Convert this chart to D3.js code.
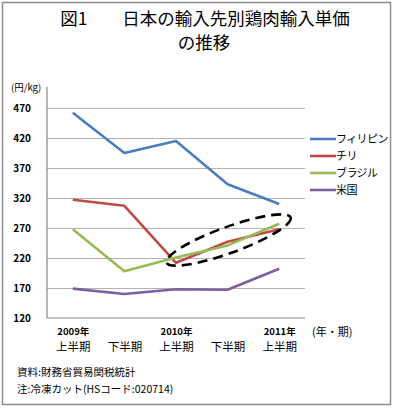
<!DOCTYPE html>
<html>
<head>
<meta charset="utf-8">
<script src="https://cdn.jsdelivr.net/npm/d3@7"></script>
<style>
  body { margin: 0; background: #fff; }
  text { font-family: "Noto Sans CJK JP", "Noto Sans", sans-serif; }
</style>
</head>
<body>
<script>
// データ
var categories = ["2009年上半期", "2009年下半期", "2010年上半期", "2010年下半期", "2011年上半期"];
var yearLabels = ["2009年", "", "2010年", "", "2011年"];
var halfLabels = ["上半期", "下半期", "上半期", "下半期", "上半期"];
var seriesNames = ["フィリピン", "チリ", "ブラジル", "米国"];
var philippines = [462, 395, 415, 343, 310];
var chile = [317, 307, 212, 247, 268];
var brazil = [268, 198, 221, 241, 277];
var usa = [169, 160, 168, 167, 202];
var yTicks = [120, 170, 220, 270, 320, 370, 420, 470];

var colors = ["#4A7EBB", "#BE4B48", "#98B954", "#7D60A0"];
var series = [philippines, chile, brazil, usa];

var width = 394, height = 408;
var plot = { left: 47, right: 305, top: 93, bottom: 318 };

var svg = d3.select("body").append("svg")
  .attr("width", width)
  .attr("height", height);

// 外枠
svg.append("rect")
  .attr("x", 2.5).attr("y", 2.5)
  .attr("width", 388).attr("height", 402)
  .attr("fill", "#fff")
  .attr("stroke", "#8c8c8c")
  .attr("stroke-width", 1.5);

// タイトル
svg.append("text")
  .attr("x", 205).attr("y", 25)
  .attr("text-anchor", "middle")
  .attr("font-size", 17.5)
  .text("図1　　日本の輸入先別鶏肉輸入単価");
svg.append("text")
  .attr("x", 204).attr("y", 49)
  .attr("text-anchor", "middle")
  .attr("font-size", 17.5)
  .text("の推移");

// 比例尺
var x = d3.scalePoint()
  .domain(categories)
  .range([plot.left, plot.right])
  .padding(0.5);

var y = d3.scaleLinear()
  .domain([120, 470])
  .range([plot.bottom, 108]);

// グリッド線
svg.append("g")
  .attr("transform", "translate(" + plot.left + ",0)")
  .call(d3.axisLeft(y).tickValues(yTicks.slice(1)).tickSize(-(plot.right - plot.left)).tickFormat(""))
  .call(function (g) { g.select(".domain").remove(); })
  .selectAll("line")
  .attr("stroke", "#b3b3b3")
  .attr("stroke-width", 1.2);

// y軸
var yAxis = svg.append("g")
  .attr("transform", "translate(" + plot.left + ",0)")
  .call(d3.axisLeft(y).tickValues(yTicks).tickSize(0).tickPadding(16));
yAxis.select(".domain").remove();
yAxis.selectAll("text")
  .attr("font-size", 10)
  .attr("font-weight", "bold")
  .attr("fill", "#000");
svg.append("line")
  .attr("x1", plot.left).attr("x2", plot.left)
  .attr("y1", plot.top - 6).attr("y2", plot.bottom)
  .attr("stroke", "#868686").attr("stroke-width", 1.2);

// x軸
var xAxis = svg.append("g")
  .attr("transform", "translate(0," + plot.bottom + ")")
  .call(d3.axisBottom(x).tickSize(0).tickFormat(""));
xAxis.select(".domain").remove();
svg.append("line")
  .attr("x1", plot.left).attr("x2", plot.right)
  .attr("y1", plot.bottom).attr("y2", plot.bottom)
  .attr("stroke", "#868686").attr("stroke-width", 1.2);
xAxis.selectAll(".tick").each(function (d, i) {
  var t = d3.select(this);
  t.append("text")
    .attr("y", 17)
    .attr("text-anchor", "middle")
    .attr("fill", "#000")
    .attr("font-size", 9.5)
    .attr("font-weight", "bold")
    .text(yearLabels[i]);
  t.append("text")
    .attr("y", 33)
    .attr("text-anchor", "middle")
    .attr("fill", "#000")
    .attr("font-size", 11.5)
    .text(halfLabels[i]);
});

// 単位
svg.append("text")
  .attr("x", 11).attr("y", 91)
  .attr("font-size", 9.5)
  .text("(円/kg)");
svg.append("text")
  .attr("x", 312).attr("y", 336)
  .attr("font-size", 11)
  .text("(年・期)");

// 折れ線
var line = d3.line()
  .x(function (d, i) { return x(categories[i]); })
  .y(function (d) { return y(d); });

svg.selectAll(".series")
  .data(series)
  .enter()
  .append("path")
  .attr("class", "series")
  .attr("d", line)
  .attr("fill", "none")
  .attr("stroke", function (d, i) { return colors[i]; })
  .attr("stroke-width", 2.6)
  .attr("stroke-linejoin", "round");

// 点線の楕円
var ex = x(categories[3]) + 1, ey = y(250);
svg.append("ellipse")
  .attr("cx", 0).attr("cy", 0)
  .attr("rx", 66).attr("ry", 13)
  .attr("transform", "translate(" + ex + "," + ey + ") rotate(-20)")
  .attr("fill", "none")
  .attr("stroke", "#000")
  .attr("stroke-width", 2.6)
  .attr("stroke-dasharray", "10,6");

// 凡例
var legend = svg.selectAll(".legend")
  .data(seriesNames)
  .enter()
  .append("g")
  .attr("class", "legend")
  .attr("transform", function (d, i) { return "translate(310," + (139 + i * 17) + ")"; });
legend.append("line")
  .attr("x1", 0).attr("x2", 26)
  .attr("stroke", function (d, i) { return colors[i]; })
  .attr("stroke-width", 2.6);
legend.append("text")
  .attr("x", 26).attr("y", 4)
  .attr("font-size", 11)
  .attr("letter-spacing", -0.6)
  .text(function (d) { return d; });

// 注
svg.append("text")
  .attr("x", 17).attr("y", 376)
  .attr("font-size", 10.5)
  .text("資料:財務省貿易関税統計");
svg.append("text")
  .attr("x", 17).attr("y", 393)
  .attr("font-size", 10.5)
  .text("注:冷凍カット(HSコード:020714)");
</script>
</body>
</html>
